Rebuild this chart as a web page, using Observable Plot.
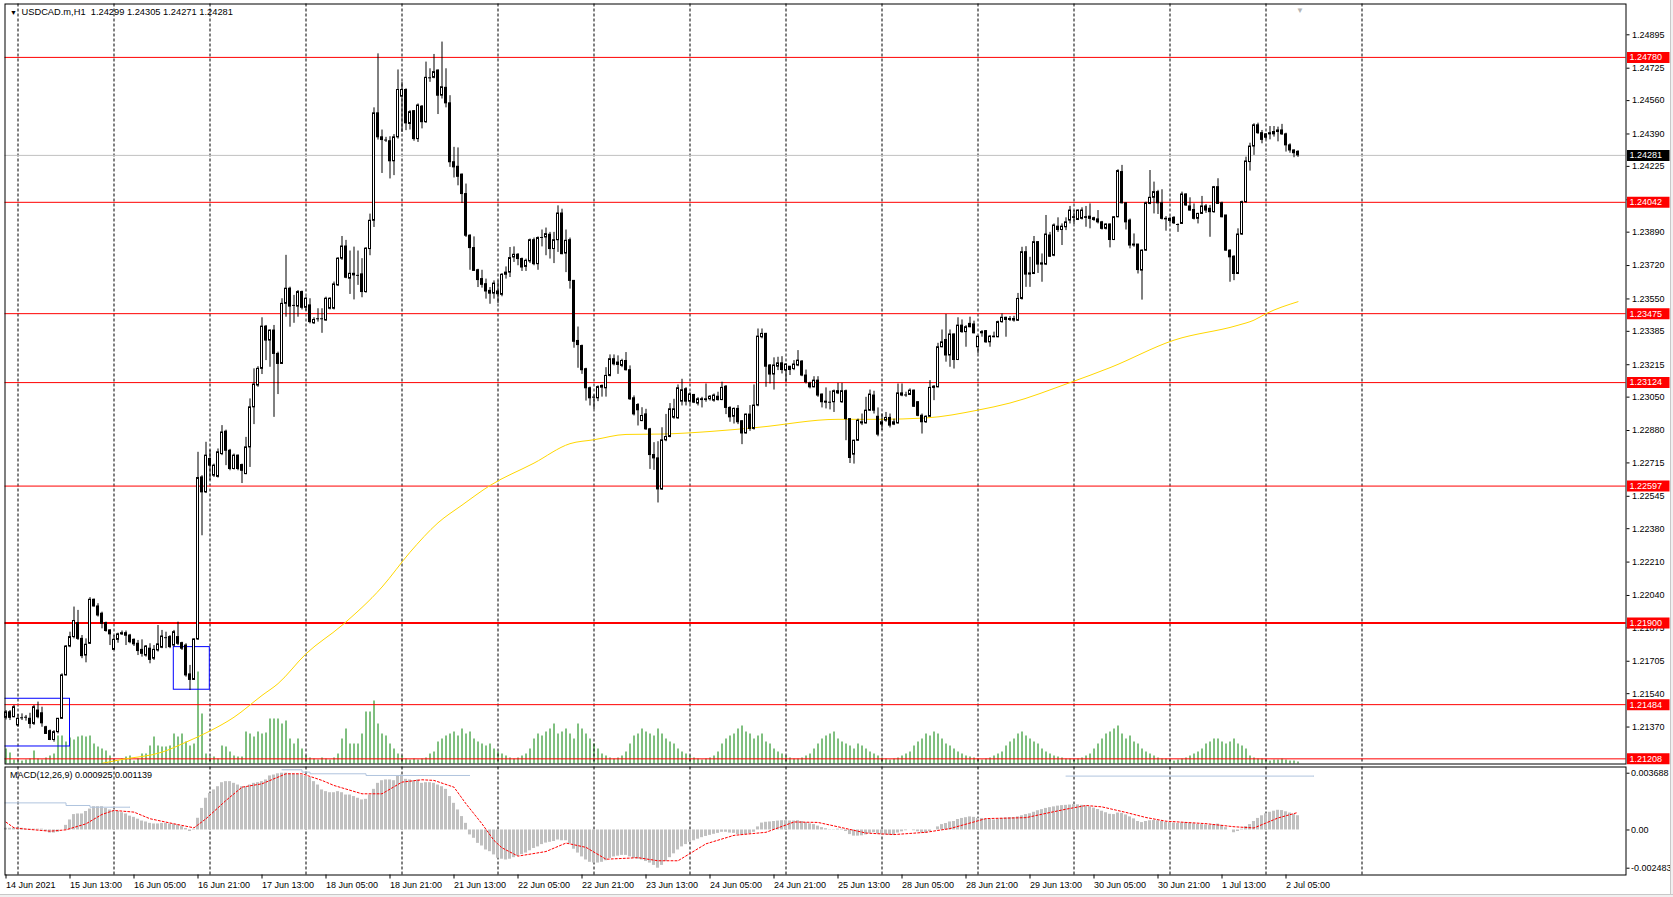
<!DOCTYPE html>
<html><head><meta charset="utf-8">
<script src="https://cdn.jsdelivr.net/npm/d3@7"></script>
<script src="https://cdn.jsdelivr.net/npm/@observablehq/plot@0.6"></script>
<style>
html,body{margin:0;padding:0;background:#fff;}
body{width:1673px;height:897px;overflow:hidden;position:relative;font-family:"Liberation Sans",Arial,sans-serif;}
.layer{position:absolute;left:0;}
.rstrip{position:absolute;left:1670px;top:0;width:3px;height:897px;background:#f0f0f0;border-left:1px solid #c8c8c8;box-sizing:border-box;}
.bstrip{position:absolute;left:0;top:894px;width:1673px;height:3px;background:#f0f0f0;border-top:1px solid #c8c8c8;box-sizing:border-box;}
</style></head><body>
<div id="vol" class="layer" style="top:0"></div>
<div id="main" class="layer" style="top:0"></div>
<div id="macd" class="layer" style="top:765px"></div>
<div class="rstrip"></div><div class="bstrip"></div>
<script>
// ---------------- DATA ----------------
const symbolTitle = "USDCAD.m,H1  1.24299 1.24305 1.24271 1.24281";
const macdTitle = "MACD(12,26,9) 0.000925 0.001139";
// H1 candles [open, high, low, close], bar 0 = 14 Jun 2021 21:00
const ohlc = [
[1.21417,1.21454,1.21406,1.21445],[1.21445,1.21454,1.21403,1.21417],[1.21420,1.21480,1.21417,1.21471],[1.21378,1.21434,1.21369,1.21412],
[1.21417,1.21437,1.21403,1.21417],[1.21420,1.21429,1.21400,1.21420],[1.21412,1.21440,1.21361,1.21386],[1.21386,1.21480,1.21378,1.21471],
[1.21454,1.21497,1.21412,1.21420],[1.21440,1.21471,1.21369,1.21389],[1.21369,1.21374,1.21332,1.21335],[1.21349,1.21355,1.21301,1.21304],
[1.21304,1.21352,1.21293,1.21344],[1.21344,1.21412,1.21335,1.21412],[1.21412,1.21641,1.21412,1.21633],[1.21633,1.21785,1.21630,1.21780],
[1.21780,1.21853,1.21774,1.21828],[1.21828,1.21981,1.21819,1.21910],[1.21899,1.21964,1.21811,1.21819],[1.21819,1.21836,1.21718,1.21731],
[1.21734,1.21819,1.21697,1.21789],[1.21794,1.22029,1.21791,1.22018],[1.22018,1.22022,1.21981,1.21984],[1.21984,1.21998,1.21930,1.21938],
[1.21947,1.21955,1.21870,1.21896],[1.21899,1.21904,1.21853,1.21859],[1.21862,1.21865,1.21785,1.21842],[1.21763,1.21836,1.21760,1.21814],
[1.21814,1.21848,1.21797,1.21842],[1.21842,1.21859,1.21836,1.21848],[1.21848,1.21859,1.21785,1.21835],[1.21836,1.21842,1.21794,1.21802],
[1.21814,1.21819,1.21780,1.21791],[1.21794,1.21811,1.21734,1.21757],[1.21763,1.21814,1.21726,1.21743],[1.21734,1.21785,1.21726,1.21780],
[1.21769,1.21794,1.21692,1.21712],[1.21718,1.21785,1.21709,1.21763],[1.21760,1.21887,1.21752,1.21791],[1.21774,1.21862,1.21769,1.21831],
[1.21825,1.21853,1.21769,1.21825],[1.21828,1.21836,1.21769,1.21777],[1.21785,1.21862,1.21777,1.21853],[1.21828,1.21904,1.21785,1.21794],
[1.21797,1.21802,1.21760,1.21769],[1.21785,1.21794,1.21624,1.21633],[1.21638,1.21684,1.21556,1.21610],[1.21610,1.21819,1.21607,1.21816],
[1.21816,1.22769,1.21811,1.22638],[1.22641,1.22650,1.22344,1.22565],[1.22565,1.22820,1.22559,1.22752],[1.22735,1.22780,1.22624,1.22701],
[1.22650,1.22709,1.22641,1.22701],[1.22644,1.22786,1.22638,1.22769],[1.22760,1.22905,1.22752,1.22870],[1.22874,1.22882,1.22701,1.22777],
[1.22777,1.22784,1.22675,1.22684],[1.22684,1.22760,1.22679,1.22752],[1.22752,1.22755,1.22675,1.22684],[1.22704,1.22709,1.22610,1.22675],
[1.22658,1.22845,1.22655,1.22794],[1.22794,1.23041,1.22692,1.22998],[1.22998,1.23194,1.22910,1.23114],[1.23109,1.23205,1.23100,1.23194],
[1.23194,1.23454,1.23165,1.23409],[1.23409,1.23415,1.23236,1.23338],[1.23338,1.23392,1.23202,1.23389],[1.23389,1.23415,1.22947,1.23270],
[1.23270,1.23279,1.23063,1.23219],[1.23219,1.23551,1.23216,1.23525],[1.23525,1.23772,1.23457,1.23602],[1.23602,1.23610,1.23406,1.23511],
[1.23517,1.23568,1.23426,1.23517],[1.23511,1.23593,1.23457,1.23585],[1.23585,1.23590,1.23494,1.23505],[1.23505,1.23559,1.23488,1.23551],
[1.23517,1.23551,1.23423,1.23432],[1.23426,1.23454,1.23420,1.23443],[1.23449,1.23500,1.23432,1.23449],[1.23449,1.23500,1.23375,1.23449],
[1.23440,1.23559,1.23437,1.23551],[1.23500,1.23556,1.23494,1.23551],[1.23500,1.23636,1.23494,1.23624],[1.23619,1.23760,1.23613,1.23755],
[1.23755,1.23868,1.23746,1.23817],[1.23817,1.23848,1.23653,1.23658],[1.23653,1.23794,1.23573,1.23678],[1.23678,1.23814,1.23545,1.23670],
[1.23670,1.23794,1.23619,1.23670],[1.23675,1.23755,1.23556,1.23585],[1.23585,1.23811,1.23579,1.23806],[1.23804,1.23982,1.23770,1.23948],
[1.23948,1.24523,1.23914,1.24495],[1.24495,1.24798,1.24359,1.24373],[1.24373,1.24410,1.24189,1.24359],[1.24359,1.24373,1.24347,1.24359],
[1.24353,1.24376,1.24161,1.24251],[1.24251,1.24387,1.24178,1.24373],[1.24373,1.24716,1.24364,1.24614],[1.24580,1.24653,1.24398,1.24614],
[1.24614,1.24620,1.24407,1.24444],[1.24441,1.24509,1.24410,1.24501],[1.24506,1.24509,1.24353,1.24364],[1.24364,1.24543,1.24347,1.24535],
[1.24529,1.24535,1.24416,1.24450],[1.24450,1.24756,1.24444,1.24676],[1.24676,1.24722,1.24653,1.24676],[1.24676,1.24795,1.24671,1.24705],
[1.24713,1.24716,1.24489,1.24585],[1.24585,1.24858,1.24568,1.24628],[1.24625,1.24722,1.24523,1.24546],[1.24546,1.24585,1.24220,1.24246],
[1.24246,1.24322,1.24166,1.24220],[1.24223,1.24319,1.24126,1.24172],[1.24183,1.24186,1.24036,1.24084],[1.24084,1.24135,1.23863,1.23872],
[1.23872,1.23877,1.23696,1.23809],[1.23809,1.23866,1.23690,1.23693],[1.23696,1.23701,1.23608,1.23646],[1.23651,1.23696,1.23605,1.23622],
[1.23625,1.23651,1.23549,1.23588],[1.23591,1.23608,1.23523,1.23577],[1.23577,1.23642,1.23549,1.23628],[1.23588,1.23642,1.23527,1.23574],
[1.23571,1.23679,1.23561,1.23673],[1.23673,1.23713,1.23651,1.23684],[1.23684,1.23812,1.23659,1.23758],[1.23761,1.23815,1.23736,1.23775],
[1.23775,1.23781,1.23719,1.23753],[1.23753,1.23758,1.23690,1.23710],[1.23713,1.23753,1.23690,1.23744],[1.23741,1.23855,1.23730,1.23849],
[1.23849,1.23860,1.23719,1.23727],[1.23727,1.23866,1.23696,1.23860],[1.23863,1.23901,1.23815,1.23863],[1.23863,1.23911,1.23770,1.23880],
[1.23877,1.23889,1.23753,1.23804],[1.23804,1.23889,1.23730,1.23849],[1.23849,1.24024,1.23787,1.23985],[1.23985,1.24007,1.23775,1.23778],
[1.23781,1.23901,1.23684,1.23846],[1.23849,1.23860,1.23600,1.23642],[1.23642,1.23642,1.23299,1.23332],[1.23336,1.23407,1.23197,1.23315],
[1.23310,1.23315,1.23166,1.23187],[1.23192,1.23197,1.23030,1.23095],[1.23095,1.23101,1.23005,1.23044],[1.23050,1.23061,1.22988,1.23050],
[1.23044,1.23107,1.23027,1.23101],[1.23098,1.23112,1.23050,1.23107],[1.23095,1.23200,1.23050,1.23158],[1.23158,1.23265,1.23153,1.23243],
[1.23243,1.23265,1.23209,1.23217],[1.23226,1.23260,1.23166,1.23214],[1.23209,1.23243,1.23200,1.23234],[1.23234,1.23277,1.23183,1.23187],
[1.23187,1.23209,1.23033,1.23039],[1.23044,1.23056,1.22954,1.22962],[1.23010,1.23017,1.22903,1.22983],[1.22928,1.22996,1.22925,1.22954],
[1.22962,1.22988,1.22881,1.22886],[1.22886,1.22891,1.22682,1.22755],[1.22755,1.22818,1.22677,1.22738],[1.22738,1.22823,1.22511,1.22580],
[1.22580,1.22894,1.22575,1.22830],[1.22830,1.22962,1.22823,1.22847],[1.22847,1.23017,1.22843,1.22988],[1.22945,1.23039,1.22937,1.22988],
[1.22942,1.23112,1.22937,1.23095],[1.23027,1.23141,1.23005,1.23085],[1.23090,1.23098,1.23005,1.23027],[1.23027,1.23073,1.23014,1.23064],
[1.23061,1.23064,1.23017,1.23022],[1.23017,1.23047,1.23005,1.23039],[1.23039,1.23049,1.22995,1.23035],[1.23035,1.23117,1.23024,1.23039],
[1.23039,1.23058,1.23030,1.23052],[1.23032,1.23066,1.23024,1.23058],[1.23052,1.23075,1.23030,1.23035],[1.23035,1.23126,1.23032,1.23097],
[1.23103,1.23109,1.22961,1.22995],[1.22995,1.23001,1.22922,1.22947],[1.22950,1.22995,1.22913,1.22990],[1.22990,1.23007,1.22910,1.22922],
[1.22927,1.22930,1.22808,1.22865],[1.22865,1.22964,1.22862,1.22961],[1.22961,1.23007,1.22876,1.22888],[1.22888,1.23112,1.22882,1.23007],
[1.23007,1.23397,1.23001,1.23358],[1.23355,1.23397,1.23347,1.23372],[1.23372,1.23375,1.23100,1.23205],[1.23211,1.23216,1.23117,1.23165],
[1.23165,1.23250,1.23086,1.23211],[1.23205,1.23253,1.23185,1.23222],[1.23222,1.23256,1.23168,1.23188],[1.23185,1.23219,1.23126,1.23216],
[1.23205,1.23205,1.23160,1.23188],[1.23193,1.23236,1.23185,1.23216],[1.23211,1.23287,1.23205,1.23236],[1.23231,1.23236,1.23154,1.23160],
[1.23160,1.23188,1.23117,1.23126],[1.23120,1.23126,1.23092,1.23100],[1.23100,1.23154,1.23097,1.23134],[1.23134,1.23154,1.23049,1.23058],
[1.23063,1.23066,1.22995,1.23024],[1.23027,1.23097,1.22990,1.23022],[1.23024,1.23080,1.22985,1.23024],[1.23024,1.23086,1.22972,1.23080],
[1.23080,1.23120,1.23063,1.23069],[1.23024,1.23120,1.23018,1.23080],[1.23080,1.23086,1.22828,1.22938],[1.22938,1.22938,1.22712,1.22740],
[1.22757,1.22831,1.22709,1.22828],[1.22828,1.22938,1.22825,1.22930],[1.22916,1.22964,1.22905,1.22922],[1.22916,1.23049,1.22913,1.22981],
[1.22981,1.23086,1.22978,1.23063],[1.23058,1.23080,1.22964,1.22981],[1.22950,1.22995,1.22848,1.22859],[1.22910,1.22964,1.22880,1.22922],
[1.22930,1.22972,1.22922,1.22944],[1.22944,1.22964,1.22893,1.22905],[1.22910,1.22938,1.22905,1.22922],[1.22916,1.23117,1.22913,1.23069],
[1.23069,1.23117,1.23052,1.23058],[1.23061,1.23075,1.23049,1.23061],[1.23061,1.23092,1.23058,1.23083],[1.23083,1.23086,1.22998,1.23001],
[1.23024,1.23027,1.22950,1.22955],[1.22955,1.22964,1.22862,1.22922],[1.22922,1.22955,1.22916,1.22950],[1.22950,1.23134,1.22947,1.23097],
[1.23103,1.23109,1.23032,1.23097],[1.23100,1.23324,1.23097,1.23304],[1.23304,1.23392,1.23301,1.23329],[1.23341,1.23471,1.23228,1.23262],
[1.23262,1.23392,1.23202,1.23369],[1.23369,1.23372,1.23193,1.23239],[1.23239,1.23454,1.23236,1.23414],[1.23414,1.23443,1.23375,1.23381],
[1.23381,1.23414,1.23304,1.23406],[1.23423,1.23457,1.23403,1.23406],[1.23420,1.23437,1.23372,1.23375],[1.23304,1.23358,1.23270,1.23358],
[1.23381,1.23389,1.23355,1.23375],[1.23386,1.23389,1.23324,1.23329],[1.23329,1.23364,1.23304,1.23358],[1.23358,1.23381,1.23352,1.23355],
[1.23355,1.23437,1.23352,1.23432],[1.23432,1.23474,1.23426,1.23454],[1.23454,1.23457,1.23355,1.23443],[1.23443,1.23460,1.23435,1.23448],
[1.23448,1.23462,1.23432,1.23440],[1.23439,1.23578,1.23435,1.23550],[1.23550,1.23813,1.23544,1.23788],[1.23788,1.23816,1.23609,1.23674],
[1.23674,1.23762,1.23609,1.23680],[1.23677,1.23868,1.23674,1.23839],[1.23839,1.23842,1.23680,1.23725],[1.23731,1.23779,1.23635,1.23725],
[1.23725,1.23975,1.23720,1.23878],[1.23873,1.23889,1.23762,1.23765],[1.23770,1.23932,1.23765,1.23924],[1.23918,1.23963,1.23889,1.23901],
[1.23901,1.23932,1.23822,1.23918],[1.23915,1.23963,1.23898,1.23940],[1.23949,1.24021,1.23932,1.24000],[1.23966,1.24000,1.23930,1.23963],
[1.23952,1.24003,1.23949,1.24000],[1.23958,1.24014,1.23952,1.24000],[1.23966,1.24021,1.23915,1.23963],[1.23969,1.24034,1.23907,1.23958],
[1.23961,1.23966,1.23945,1.23952],[1.23955,1.24000,1.23932,1.23940],[1.23940,1.23945,1.23901,1.23907],[1.23907,1.23932,1.23901,1.23929],
[1.23929,1.23932,1.23810,1.23850],[1.23850,1.23969,1.23847,1.23966],[1.23966,1.24208,1.23963,1.24201],[1.24196,1.24230,1.24034,1.24037],
[1.24037,1.24040,1.23901,1.23940],[1.23949,1.23957,1.23805,1.23822],[1.23827,1.23881,1.23813,1.23822],[1.23827,1.23827,1.23677,1.23697],
[1.23694,1.23800,1.23544,1.23796],[1.23796,1.24043,1.23793,1.24037],[1.24034,1.24204,1.24030,1.24065],[1.24065,1.24145,1.23983,1.24094],
[1.24094,1.24103,1.23980,1.24037],[1.24037,1.24106,1.23952,1.23958],[1.23958,1.23969,1.23895,1.23955],[1.23947,1.23966,1.23932,1.23958],
[1.23963,1.23969,1.23929,1.23935],[1.23929,1.23932,1.23889,1.23929],[1.23932,1.24094,1.23929,1.24082],[1.24082,1.24085,1.24021,1.24026],
[1.24021,1.24065,1.23997,1.24000],[1.24003,1.24034,1.23952,1.23958],[1.23958,1.23986,1.23932,1.23983],[1.23983,1.24072,1.23980,1.24021],
[1.24021,1.24031,1.23986,1.24000],[1.24009,1.24026,1.23864,1.23992],[1.23992,1.24123,1.23986,1.24119],[1.24119,1.24162,1.24031,1.24034],
[1.24037,1.24043,1.23963,1.23966],[1.23975,1.23975,1.23793,1.23796],[1.23796,1.23800,1.23635,1.23762],[1.23765,1.23770,1.23643,1.23677],
[1.23677,1.23907,1.23674,1.23878],[1.23878,1.24048,1.23873,1.24043],[1.24043,1.24272,1.24037,1.24250],[1.24247,1.24343,1.24201,1.24326],
[1.24326,1.24442,1.24281,1.24434],[1.24434,1.24445,1.24388,1.24394],[1.24394,1.24408,1.24340,1.24360],[1.24388,1.24391,1.24360,1.24371],
[1.24388,1.24428,1.24360,1.24394],[1.24388,1.24428,1.24374,1.24400],[1.24400,1.24425,1.24350,1.24408],[1.24408,1.24439,1.24383,1.24388],
[1.24388,1.24394,1.24298,1.24332],[1.24332,1.24340,1.24292,1.24306],[1.24306,1.24309,1.24269,1.24292],[1.24299,1.24305,1.24271,1.24281]
];
// tick volume per bar (estimated)
const volumes = [
15,11,4,3,3,4,5,13,5,4,6,8,10,28,28,22,26,24,27,28,27,28,20,17,
15,13,8,4,3,5,7,8,3,5,10,10,18,27,18,17,17,18,30,27,30,22,18,20,
92,50,10,7,7,5,18,17,12,8,7,7,32,30,27,32,30,31,45,45,45,40,43,25,
20,25,15,8,6,5,4,6,5,4,6,10,25,35,20,20,20,30,52,52,63,40,30,28,
20,15,10,
8,5,4,5,4,5,6,10,12,
22,25,28,30,32,28,35,30,32,25,22,20,18,20,15,
12,10,8,6,5,6,8,10,15,25,30,28,32,35,40,30,32,35,30,25,40,35,30,25,
20,15,10,8,6,5,6,8,12,20,28,30,35,32,30,28,35,30,25,22,20,15,12,10,
8,6,5,4,5,6,8,12,20,25,28,30,35,38,32,30,25,28,30,22,20,15,12,10,
8,6,5,5,6,8,10,15,20,25,28,30,32,25,22,20,18,15,20,18,15,12,10,8,
6,5,4,5,6,8,10,12,18,22,25,30,28,32,30,25,20,18,15,12,10,8,7,6,
5,4,5,6,8,10,12,18,22,25,30,32,28,25,22,20,15,12,10,8,7,6,5,5,
4,5,6,8,10,15,20,25,30,32,35,38,30,25,28,22,20,15,12,10,8,6,5,5,
4,3,4,5,6,8,10,12,15,20,22,25,25,22,20,22,25,20,18,15,8,6,5,5,
4,3,4,4,5,4,3,3,2
];
// MACD main (histogram) per bar
const macdMain = [
0.00011,0.00011,0.00011,0.00011,0.00011,0.00005,0.00005,0.00005,0.00005,0.00005,-0.00010,-0.00020,-0.00020,-0.00015,0.00000,0.00030,
0.00065,0.00100,0.00104,0.00104,0.00120,0.00136,0.00151,0.00151,0.00151,0.00140,0.00130,0.00125,0.00120,0.00112,0.00104,0.00090,
0.00082,0.00070,0.00058,0.00052,0.00043,0.00039,0.00039,0.00043,0.00043,0.00039,0.00037,0.00032,0.00022,0.00010,-0.00010,0.00005,
0.00076,0.00140,0.00206,0.00238,0.00260,0.00281,0.00307,0.00314,0.00314,0.00303,0.00292,0.00281,0.00281,0.00292,0.00303,0.00307,
0.00314,0.00325,0.00351,0.00357,0.00365,0.003688,0.003688,0.00365,0.00362,0.00360,0.00356,0.00348,0.00340,0.00314,0.00292,0.00260,
0.00249,0.00242,0.00242,0.00249,0.00242,0.00227,0.00227,0.00217,0.00206,0.00195,0.00199,0.00227,0.00264,0.00303,0.00320,0.00325,
0.00325,0.00320,0.00351,0.00357,0.00329,0.00325,0.00320,0.00325,0.00303,0.00307,0.00307,0.00303,0.00292,0.00281,0.00264,0.00217,
0.00173,0.00130,0.00087,0.00043,-0.00032,-0.00054,-0.00087,-0.00104,-0.00130,-0.00141,-0.00162,-0.00184,
-0.00190,-0.00195,-0.00190,-0.00180,-0.00170,-0.00160,-0.00150,-0.00135,-0.00120,-0.00110,-0.00095,-0.00085,
-0.00080,-0.00075,-0.00065,-0.00070,-0.00070,-0.00090,-0.00125,-0.00150,-0.00175,-0.00195,-0.00210,-0.00215,
-0.00215,-0.00210,-0.00200,-0.00185,-0.00175,-0.00170,-0.00165,-0.00165,-0.00175,-0.00185,-0.00190,-0.00195,-0.00205,-0.00215,-0.00230,-0.002483,
-0.00230,-0.00205,-0.00180,-0.00155,-0.00130,-0.00110,-0.00095,-0.00080,-0.00070,-0.00060,-0.00050,-0.00042,-0.00035,-0.00028,-0.00022,-0.00015,-0.00015,-0.00020,-0.00022,-0.00030,-0.00035,-0.00030,
-0.00025,-0.00015,0.00020,0.00045,0.00050,0.00052,0.00055,0.00058,0.00060,0.00060,0.00058,0.00058,0.00060,0.00055,0.00048,0.00040,0.00035,0.00025,0.00015,0.00008,0.00002,-0.00002,0.00005,0.00005,
-0.00010,-0.00030,-0.00040,-0.00040,-0.00038,-0.00032,-0.00022,-0.00018,-0.00025,-0.00030,-0.00032,-0.00035,-0.00035,-0.00020,-0.00012,-0.00005,0.00000,-0.00005,-0.00012,-0.00020,-0.00022,-0.00010,0.00000,
0.00020,0.00035,0.00042,0.00052,0.00055,0.00068,0.00075,0.00080,0.00085,0.00082,0.00075,0.00075,0.00070,0.00068,0.00065,0.00070,0.00075,0.00078,0.00080,0.00080,0.00085,0.00092,0.00100,
0.00105,0.00115,0.00125,0.00132,0.00140,0.00145,0.00150,0.00155,0.00158,0.00160,
0.00162,0.00165,0.00163,0.00160,0.00155,0.00150,0.00142,0.00133,0.00122,0.00112,0.00102,0.00100,0.00110,0.00108,0.00098,0.00085,0.00072,0.00055,0.00048,0.00055,0.00060,0.00062,0.00060,0.00055,0.00050,
0.00048,0.00045,0.00042,0.00045,0.00048,
0.00045,0.00040,0.00036,0.00035,0.00033,0.00030,0.00035,0.00038,
0.00030,0.00015,0.00000,-0.00018,-0.00010,0.00005,0.00022,0.00035,
0.00055,0.00075,0.00092,0.00105,0.00115,0.00122,0.00128,0.00126,0.00118,0.00110,0.00101,0.000925
];
// MACD signal line read at [bar, value]
const macdSignal = [
[0,0.00051],[2,0.00014],[4,0.00008],[11,-0.00008],[15,0.00001],[20,0.00040],[24,0.00101],[27,0.00127],[32,0.00116],[36,0.00073],
[42,0.00040],[47,0.00014],[50,0.00073],[55,0.00192],[59,0.00278],[64,0.00300],[70,0.00365],[74,0.00365],[79,0.00322],[82,0.00289],
[89,0.00235],[94,0.00235],[99,0.00311],[104,0.00326],[107,0.00322],[112,0.00278],[115,0.00170],[119,0.00040],[122,-0.00068],[124,-0.00116],
[128,-0.0017],[135,-0.0014],[140,-0.00085],[145,-0.00113],[150,-0.0019],[158,-0.0018],[163,-0.0020],[168,-0.0020],[175,-0.0009],[182,-0.00035],
[190,-0.00015],[197,0.00052],[203,0.00049],[209,0.00015],[215,-0.0002],[222,-0.0003],[230,-0.00015],[236,0.00009],[245,0.00074],[255,0.0008],
[260,0.00108],[265,0.00135],[270,0.00159],[274,0.0015],[280,0.00114],[285,0.00081],[290,0.00057],[300,0.00041],[307,0.00021],[312,0.00013],
[318,0.00078],[323,0.001139]
];
// light steel-blue step line in the MACD window, [bar, value, segment]
const macdBlue = [
[-2,0.00176,"a"],[15,0.00159,"a"],[21,0.00148,"a"],[31,0.00148,"a"],
[69,0.00391,"b"],[74,0.00376,"b"],[76,0.00365,"b"],[90,0.00354,"b"],[116,0.00354,"b"],
[265,0.00350,"c"],[327,0.00350,"c"]
];
// yellow moving average read at [bar, price]
const maPoints = [
[24,1.21185],[29,1.21205],[39,1.21242],[45,1.21293],[51,1.21350],[57,1.21420],[64,1.21531],[68,1.21591],[75,1.21743],[84,1.21888],
[94,1.22083],[101,1.22260],[108,1.22410],[114,1.22500],[121,1.22600],[132,1.22714],[141,1.22813],[147,1.22833],[155,1.22860],[164,1.22862],[176,1.22875],
[188,1.22896],[208,1.22937],[218,1.22937],[230,1.22944],[243,1.22984],[251,1.23020],[266,1.23124],[276,1.23200],[292,1.23340],[308,1.23416],
[312,1.23442],[315,1.23475],[323,1.23536]
];
const levels = [1.24780, 1.24042, 1.23475, 1.23124, 1.22597, 1.21484, 1.21208];
const boldLevel = 1.21900;
const lastPrice = 1.24281;
// blue rectangles [startBar, endBar, topPrice, bottomPrice]
const boxes = [[-2, 16, 1.21514, 1.21271], [41.95, 50.95, 1.21777, 1.21560]];
const yTicks = [1.24895,1.24725,1.24560,1.24390,1.24225,1.24055,1.23890,1.23720,1.23550,1.23385,1.23215,1.23050,1.22880,1.22715,1.22545,1.22380,1.22210,1.22040,1.21875,1.21705,1.21540,1.21370];
const macdTicks = [0.003688, 0, -0.002483];
const macdTickText = ["0.003688", "0.00", "-0.002483"];
const timeLabels = ["14 Jun 2021","15 Jun 13:00","16 Jun 05:00","16 Jun 21:00","17 Jun 13:00","18 Jun 05:00","18 Jun 21:00","21 Jun 13:00","22 Jun 05:00","22 Jun 21:00","23 Jun 13:00","24 Jun 05:00","24 Jun 21:00","25 Jun 13:00","28 Jun 05:00","28 Jun 21:00","29 Jun 13:00","30 Jun 05:00","30 Jun 21:00","1 Jul 13:00","2 Jul 05:00"];
const LABEL_EVERY = 16;      // bars between time labels
const GRID_FIRST = 3, GRID_EVERY = 24, GRID_LAST = 339; // day separators (00:00)
const SHIFT_BAR = 323.5;

// ---------------- BUILD ----------------
const bars = ohlc.map(([o,h,l,c], i) => ({i, o, h, l, c, v: volumes[i]}));
const bulls = bars.filter(d => d.c - d.o > 0.000005);
const bears = bars.filter(d => d.o - d.c > 0.000005);
const dojis = bars.filter(d => Math.abs(d.c - d.o) <= 0.000005);
const gridIdx = d3.range(GRID_FIRST, GRID_LAST + 1, GRID_EVERY);
const timeIdx = timeLabels.map((_, k) => k * LABEL_EVERY);
const macdBars = macdMain.map((v, i) => ({i, v}));

const W = 1673;
const X0 = -0.25, X1 = 405;
const FONT = {fontFamily: "'Liberation Sans', Arial, sans-serif", fontSize: "9px", background: "transparent", color: "#000", overflow: "visible"};
const mainMargins = {marginLeft: 4.5, marginRight: 47.5, marginTop: 3.5, marginBottom: 1.5};
const yDomain = [1.211818, 1.250519];

// volume layer (own y scale, drawn under the candles)
const volPlot = Plot.plot({
  width: W, height: 765, ...mainMargins,
  x: {domain: [X0, X1], axis: null},
  y: {domain: [0, 760], axis: null},
  style: FONT,
  marks: [
    Plot.ruleX(bars, {x: "i", y1: () => 0, y2: "v", stroke: "#008000", strokeWidth: 1})
  ]
});
document.getElementById("vol").appendChild(volPlot);

const mainPlot = Plot.plot({
  width: W, height: 765, ...mainMargins,
  x: {domain: [X0, X1], axis: null, label: null},
  y: {domain: yDomain, label: null},
  style: FONT,
  marks: [
    Plot.ruleX(gridIdx, {x: d => d, stroke: "#000", strokeWidth: 1, strokeDasharray: "3,2"}),
    Plot.ruleY([lastPrice], {y: d => d, stroke: "#c0c0c0", strokeWidth: 1}),
    Plot.ruleY(levels, {y: d => d, stroke: "#ff0000", strokeWidth: 1}),
    Plot.ruleY([boldLevel], {y: d => d, stroke: "#ff0000", strokeWidth: 2}),
    Plot.line(maPoints, {x: d => d[0], y: d => d[1], stroke: "#ffd700", strokeWidth: 1, curve: "monotone-x", clip: true}),
    Plot.rect(boxes, {x1: d => d[0], x2: d => d[1], y1: d => d[3], y2: d => d[2], fill: "none", stroke: "#0000ff", strokeWidth: 1, clip: true}),
    Plot.ruleX(bars, {x: "i", y1: "l", y2: "h", stroke: "#000", strokeWidth: 1}),
    Plot.rect(bulls, {x1: d => d.i - 0.25, x2: d => d.i + 0.25, y1: "o", y2: "c", fill: "#fff", stroke: "#000", strokeWidth: 1}),
    Plot.rect(bears, {x1: d => d.i - 0.25, x2: d => d.i + 0.25, y1: "o", y2: "c", fill: "#000", stroke: "#000", strokeWidth: 1}),
    Plot.ruleY(dojis, {y: "c", x1: d => d.i - 0.375, x2: d => d.i + 0.375, stroke: "#000", strokeWidth: 1}),
    Plot.axisY(yTicks, {anchor: "right", tickSize: 3, tickPadding: 3, tickFormat: d => d.toFixed(5), label: null}),
    Plot.ruleY(levels.concat([boldLevel]), {y: d => d, x1: X1 + 0.375, x2: X1 + 11, stroke: "#ff0000", strokeWidth: 11}),
    Plot.text(levels.concat([boldLevel]), {y: d => d, x: X1 + 0.375, dx: 2, text: d => d.toFixed(5), fill: "#fff", textAnchor: "start"}),
    Plot.ruleY([lastPrice], {y: d => d, x1: X1 + 0.375, x2: X1 + 11, stroke: "#000", strokeWidth: 11}),
    Plot.text([lastPrice], {y: d => d, x: X1 + 0.375, dx: 2, text: d => d.toFixed(5), fill: "#fff", textAnchor: "start"}),
    Plot.text([SHIFT_BAR], {x: d => d, frameAnchor: "top", dy: 3, text: () => "\u25BC", fill: "#b4b4b4", fontSize: 8}),
    Plot.text(["\u25BC"], {frameAnchor: "top-left", dx: 5, dy: 6, fontSize: 7, fill: "#000", textAnchor: "start"}),
    Plot.text([symbolTitle], {frameAnchor: "top-left", dx: 16.5, dy: 4.5, textAnchor: "start", fill: "#000", fontSize: 9.3}),
    Plot.frame({stroke: "#000"})
  ]
});
document.getElementById("main").appendChild(mainPlot);

const macdPlot = Plot.plot({
  width: W, height: 132,
  marginLeft: 4.5, marginRight: 47.5, marginTop: 1.5, marginBottom: 22.5,
  x: {domain: [X0, X1], label: null},
  y: {domain: [-0.002925, 0.004091], label: null},
  style: FONT,
  marks: [
    Plot.ruleX(gridIdx, {x: d => d, stroke: "#000", strokeWidth: 1, strokeDasharray: "3,2"}),
    Plot.rect(macdBars, {x1: d => d.i - 0.375, x2: d => d.i + 0.375, y1: () => 0, y2: "v", fill: "#c0c0c0"}),
    Plot.line(macdBlue, {x: d => d[0], y: d => d[1], z: d => d[2], stroke: "#b0c4de", strokeWidth: 1, curve: "step-after", clip: true}),
    Plot.line(macdSignal, {x: d => d[0], y: d => d[1], stroke: "#ff0000", strokeWidth: 1, strokeDasharray: "2,2"}),
    Plot.axisY(macdTicks, {anchor: "right", tickSize: 3, tickPadding: 2, tickFormat: d => macdTickText[macdTicks.indexOf(d)], label: null}),
    Plot.axisX(timeIdx, {anchor: "bottom", tickSize: 4, tickPadding: 3, tickFormat: d => timeLabels[timeIdx.indexOf(d)], textAnchor: "start", dx: 0, label: null}),
    Plot.text([macdTitle], {frameAnchor: "top-left", dx: 5, dy: 4.5, textAnchor: "start", fill: "#000"}),
    Plot.frame({stroke: "#000"})
  ]
});
document.getElementById("macd").appendChild(macdPlot);
</script>
</body></html>
